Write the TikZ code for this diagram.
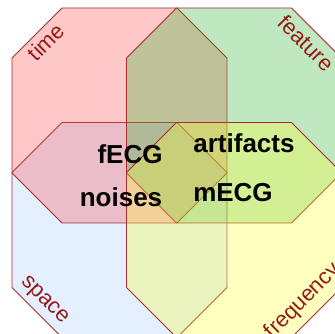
\documentclass[tikz,border=0pt]{standalone}
\usepackage{fontspec}
\setmainfont{Liberation Sans}
\usepackage{tikz}
\usetikzlibrary{positioning}

\definecolor{timecol}{RGB}{255,72,72}
\definecolor{featcol}{RGB}{45,178,45}
\definecolor{spacecol}{RGB}{165,205,255}
\definecolor{freqcol}{RGB}{255,255,45}
\definecolor{edgecol}{RGB}{165,45,45}
\definecolor{labelcol}{RGB}{150,25,25}

% square of side 215 with its corners cut by 50, upper left at (#1,#2)
\newcommand{\cutsquare}[2]{(#1,#2+50) -- (#1+50,#2) -- (#1+165,#2) -- (#1+215,#2+50) -- (#1+215,#2+165) -- (#1+165,#2+215) -- (#1+50,#2+215) -- (#1,#2+165) -- cycle}

\begin{document}
\begin{tikzpicture}[x=1pt, y=-1pt]

% Define styles
\tikzstyle{region} = [draw=edgecol, line width=0.9pt, fill opacity=0.3]
\tikzstyle{axis} = [text=labelcol, inner sep=0pt, font=\fontsize{22}{26}\selectfont]
\tikzstyle{item} = [anchor=base, inner sep=0pt, font=\bfseries\fontsize{26}{31}\selectfont]

\useasboundingbox (0,0) rectangle (335,334);
\clip (0,0) rectangle (335,334);

% Regions
\draw [region, fill=spacecol] \cutsquare{12}{122.5};
\draw [region, fill=timecol] \cutsquare{12}{8};
\draw [region, fill=featcol] \cutsquare{126.5}{8};
\draw [region, fill=freqcol] \cutsquare{126.5}{122.5};

% Axis labels
\node [axis, rotate=45] (time) at (46,42) {time};
\node [axis, rotate=-45] (feature) at (306,43) {feature};
\node [axis, rotate=-45] (space) at (44,301) {space};
\node [axis, rotate=45] (frequency) at (303,301) {frequency};

% Contents
\node [item] (fecg) at (130,164) {fECG};
\node [item] (noises) at (121,207) {noises};
\node [item] (artifacts) at (244,153) {artifacts};
\node [item] (mecg) at (233,201) {mECG};

\end{tikzpicture}
\end{document}
